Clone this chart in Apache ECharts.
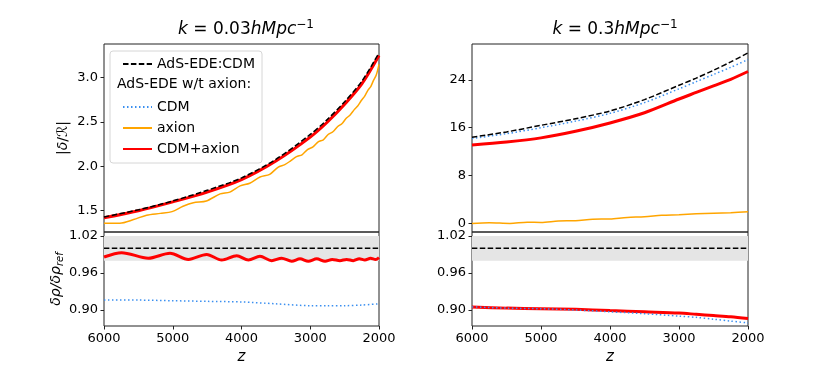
<!DOCTYPE html>
<html>
<head>
<meta charset="utf-8">
<script src="https://cdn.jsdelivr.net/npm/echarts@6/dist/echarts.min.js"></script>
<style>
  html, body { margin: 0; padding: 0; background: #fff; }
  #chart { width: 831px; height: 367px; }
</style>
</head>
<body>
<div id="chart"></div>
<script>
// redshift grid (shared by the smooth curves)
const zGrid = [6000, 5500, 5000, 4500, 4000, 3500, 3000, 2750, 2500, 2250, 2000]
const zEnds = [6000, 2000]

// k = 0.03 h/Mpc, |delta/R|
const k003Ref = [1.43, 1.51, 1.61, 1.73, 1.87, 2.08, 2.36, 2.53, 2.73, 2.96, 3.28]
const k003CdmAxion = [1.42, 1.50, 1.60, 1.71, 1.85, 2.06, 2.33, 2.50, 2.70, 2.93, 3.25]
const k003Cdm = [1.42, 1.50, 1.60, 1.71, 1.85, 2.06, 2.33, 2.50, 2.70, 2.93, 3.25]
const k003AxionZ = [6000, 5770, 5570, 5380, 5180, 5010, 4850, 4700, 4510, 4310, 4170, 4020, 3880, 3730, 3590, 3470, 3370, 3290,
  3200, 3120, 3040, 2960, 2880, 2810, 2740, 2670, 2600, 2540, 2480, 2420, 2360, 2310, 2260, 2210, 2160, 2120, 2080, 2040, 2000]
const k003Axion = [1.36, 1.36, 1.40, 1.45, 1.47, 1.49, 1.55, 1.59, 1.61, 1.69, 1.71, 1.78, 1.81, 1.88, 1.91, 1.99, 2.02, 2.06,
  2.11, 2.13, 2.19, 2.22, 2.28, 2.30, 2.36, 2.39, 2.45, 2.48, 2.54, 2.58, 2.64, 2.68, 2.74, 2.79, 2.86, 2.90, 2.97, 3.03, 3.15]

// k = 0.03 h/Mpc, ratio to reference
const k003RatioZ = [6000, 5743, 5356, 5040, 4773, 4507, 4288, 4070, 3900, 3731, 3561, 3416, 3270, 3149, 3028, 2906,
  2785, 2680, 2568, 2471, 2374, 2287, 2205, 2122, 2049, 2000]
const k003RatioCdmAxion = [0.986, 0.993, 0.984, 0.992, 0.982, 0.990, 0.981, 0.988, 0.981, 0.987, 0.980, 0.984, 0.979, 0.983, 0.979, 0.983,
  0.979, 0.982, 0.980, 0.982, 0.980, 0.983, 0.981, 0.984, 0.982, 0.985]
const k003RatioCdm = [0.916, 0.916, 0.915, 0.914, 0.913, 0.910, 0.907, 0.907, 0.907, 0.908, 0.910]

// k = 0.3 h/Mpc, |delta/R|
const k03Ref = [14.4, 15.3, 16.4, 17.5, 18.8, 20.7, 23.1, 24.3, 25.6, 27.0, 28.5]
const k03Cdm = [14.2, 15.0, 16.0, 17.1, 18.4, 20.2, 22.5, 23.7, 24.9, 26.1, 27.4]
const k03CdmAxion = [13.1, 13.6, 14.3, 15.4, 16.8, 18.5, 20.8, 21.9, 23.0, 24.1, 25.4]
const k03AxionZ = [6000, 5750, 5450, 5200, 5000, 4750, 4500, 4250, 4000, 3750, 3500, 3250, 3000, 2750, 2500, 2250, 2000]
const k03Axion = [0.0, 0.1, 0.0, 0.2, 0.15, 0.4, 0.45, 0.7, 0.75, 1.0, 1.1, 1.35, 1.45, 1.6, 1.7, 1.8, 1.95]

// k = 0.3 h/Mpc, ratio to reference
const k03RatioCdmAxion = [0.905, 0.903, 0.902, 0.901, 0.899, 0.897, 0.895, 0.893, 0.891, 0.889, 0.886]
const k03RatioCdm = [0.905, 0.903, 0.902, 0.900, 0.897, 0.894, 0.890, 0.888, 0.885, 0.882, 0.879]

const refRatio = [1.0, 1.0]
const bandLow = 0.98
const bandHigh = 1.02

const topTicksLeft = [1.5, 2.0, 2.5, 3.0]
const topTicksRight = [0, 8, 16, 24]
const ratioTicks = [0.90, 0.96, 1.02]

const pairs = (xs, ys) => xs.map((x, i) => [x, ys[i]])

const FONT = 'DejaVu Sans'
const BLACK = '#000'
const BLUE = '#3a8ff0'
const ORANGE = '#ffa500'
const RED = '#ff0000'

const myChart = echarts.init(document.getElementById('chart'))

const grids = [
  { left: 104, width: 275, top: 44, height: 188 },
  { left: 104, width: 275, top: 232, height: 94 },
  { left: 472, width: 276, top: 44, height: 188 },
  { left: 472, width: 276, top: 232, height: 94 }
].map(g => Object.assign({ show: true, borderColor: '#222', borderWidth: 1, backgroundColor: 'transparent' }, g))

function xAxis (gridIndex, bottom) {
  return {
    type: 'value',
    gridIndex: gridIndex,
    min: 2000,
    max: 6000,
    interval: 1000,
    inverse: true,
    name: bottom ? 'z' : '',
    nameLocation: 'middle',
    nameGap: 24,
    nameTextStyle: { fontFamily: FONT, fontSize: 15, fontStyle: 'italic', color: BLACK },
    axisLine: { show: false },
    axisTick: { show: bottom, length: 3.5, lineStyle: { color: '#222' } },
    axisLabel: { show: bottom, margin: 6, fontFamily: FONT, fontSize: 13, color: BLACK, formatter: v => String(v) },
    splitLine: { show: false }
  }
}

function yAxis (gridIndex, min, max, ticks, digits, name, rich, gap) {
  return {
    type: 'value',
    gridIndex: gridIndex,
    min: min,
    max: max,
    name: name,
    nameLocation: 'middle',
    nameGap: gap,
    nameRotate: 90,
    nameTextStyle: { fontFamily: FONT, fontSize: 14, color: BLACK, rich: rich },
    axisLine: { show: false },
    axisTick: { show: true, length: 3.5, customValues: ticks, lineStyle: { color: '#222' } },
    axisLabel: {
      margin: 6,
      fontFamily: FONT,
      fontSize: 13,
      color: BLACK,
      customValues: ticks,
      formatter: v => digits === 0 ? String(Math.round(v)) : v.toFixed(digits)
    },
    splitLine: { show: false }
  }
}

const nameRich = {
  i: { fontFamily: FONT, fontSize: 14, fontStyle: 'italic', color: BLACK },
  sub: { fontFamily: FONT, fontSize: 10, fontStyle: 'italic', color: BLACK, padding: [8, 0, 0, 0] }
}

function line (name, xi, data, color, width, type, z) {
  return {
    name: name,
    type: 'line',
    xAxisIndex: xi,
    yAxisIndex: xi,
    data: data,
    symbol: 'none',
    smooth: 0.3,
    z: z,
    lineStyle: { color: color, width: width, type: type, cap: 'butt' },
    itemStyle: { color: color }
  }
}

const dashed = [5.5, 2.4]
const dotted = [1.5, 2.5]

const bandArea = {
  silent: true,
  itemStyle: { color: '#e5e5e5' },
  data: [[{ yAxis: bandLow }, { yAxis: bandHigh }]]
}

const series = [
  // k = 0.03 top
  line('CDM', 0, pairs(zGrid, k003Cdm), BLUE, 1.5, dotted, 2),
  line('axion', 0, pairs(k003AxionZ, k003Axion), ORANGE, 1.5, 'solid', 3),
  line('CDM+axion', 0, pairs(zGrid, k003CdmAxion), RED, 3, 'solid', 4),
  line('AdS-EDE:CDM', 0, pairs(zGrid, k003Ref), BLACK, 1.5, dashed, 5),
  // k = 0.03 ratio
  Object.assign(line('AdS-EDE:CDM', 1, pairs(zEnds, refRatio), BLACK, 1.5, dashed, 5), { markArea: bandArea }),
  line('CDM', 1, pairs(zGrid, k003RatioCdm), BLUE, 1.5, dotted, 2),
  line('CDM+axion', 1, pairs(k003RatioZ, k003RatioCdmAxion), RED, 3, 'solid', 4),
  // k = 0.3 top
  line('axion', 2, pairs(k03AxionZ, k03Axion), ORANGE, 1.5, 'solid', 3),
  line('CDM+axion', 2, pairs(zGrid, k03CdmAxion), RED, 3, 'solid', 4),
  line('CDM', 2, pairs(zGrid, k03Cdm), BLUE, 1.5, dotted, 4),
  line('AdS-EDE:CDM', 2, pairs(zGrid, k03Ref), BLACK, 1.5, dashed, 5),
  // k = 0.3 ratio
  Object.assign(line('AdS-EDE:CDM', 3, pairs(zEnds, refRatio), BLACK, 1.5, dashed, 5), { markArea: bandArea }),
  line('CDM+axion', 3, pairs(zGrid, k03RatioCdmAxion), RED, 3, 'solid', 4),
  line('CDM', 3, pairs(zGrid, k03RatioCdm), BLUE, 1.5, dotted, 5)
]

const titleRich = {
  i: { fontFamily: FONT, fontSize: 17, fontStyle: 'italic', fontWeight: 'normal', color: BLACK },
  r: { fontFamily: FONT, fontSize: 17, fontWeight: 'normal', color: BLACK },
  sup: { fontFamily: FONT, fontSize: 12, fontWeight: 'normal', color: BLACK, padding: [0, 0, 9, 0] }
}

const legendText = { fontFamily: FONT, fontSize: 14, color: BLACK }

const legendBase = {
  left: 117,
  orient: 'vertical',
  itemWidth: 29,
  itemHeight: 14,
  itemGap: 7,
  z: 20,
  textStyle: legendText,
  selectedMode: false,
  itemStyle: { opacity: 0 }
}

const option = {
  animation: false,
  backgroundColor: '#fff',
  title: [
    { text: '{i|k}{r| = 0.03}{i|hMpc}{sup|−1}', left: 241, top: 14, textAlign: 'center', textStyle: { fontWeight: 'normal', rich: titleRich } },
    { text: '{i|k}{r| = 0.3}{i|hMpc}{sup|−1}', left: 610, top: 14, textAlign: 'center', textStyle: { fontWeight: 'normal', rich: titleRich } }
  ],
  grid: grids,
  xAxis: [xAxis(0, false), xAxis(1, true), xAxis(2, false), xAxis(3, true)],
  yAxis: [
    yAxis(0, 1.26, 3.38, topTicksLeft, 1, '|{i|δ}/ℛ|', nameRich, 34),
    yAxis(1, 0.874, 1.0265, ratioTicks, 2, '{i|δρ/δρ}{sub|ref}', nameRich, 36),
    yAxis(2, -1.44, 30, topTicksRight, 0, '', nameRich, 30),
    yAxis(3, 0.874, 1.0265, ratioTicks, 2, '', nameRich, 30)
  ],
  legend: [
    Object.assign({ top: 52, data: ['AdS-EDE:CDM'] }, legendBase),
    Object.assign({ top: 95, data: ['CDM', 'axion', 'CDM+axion'] }, legendBase)
  ],
  graphic: [
    {
      type: 'rect', z: 10, silent: true,
      shape: { x: 110, y: 51, width: 152, height: 112, r: 3 },
      style: { fill: 'rgba(255,255,255,0.85)', stroke: '#d6d6d6', lineWidth: 1 }
    },
    {
      type: 'text', z: 11, silent: true, left: 117, top: 77,
      style: { text: 'AdS-EDE w/t axion:', font: '14px "DejaVu Sans"', fill: BLACK }
    }
  ],
  series: series
}

myChart.setOption(option)
</script>
</body>
</html>
